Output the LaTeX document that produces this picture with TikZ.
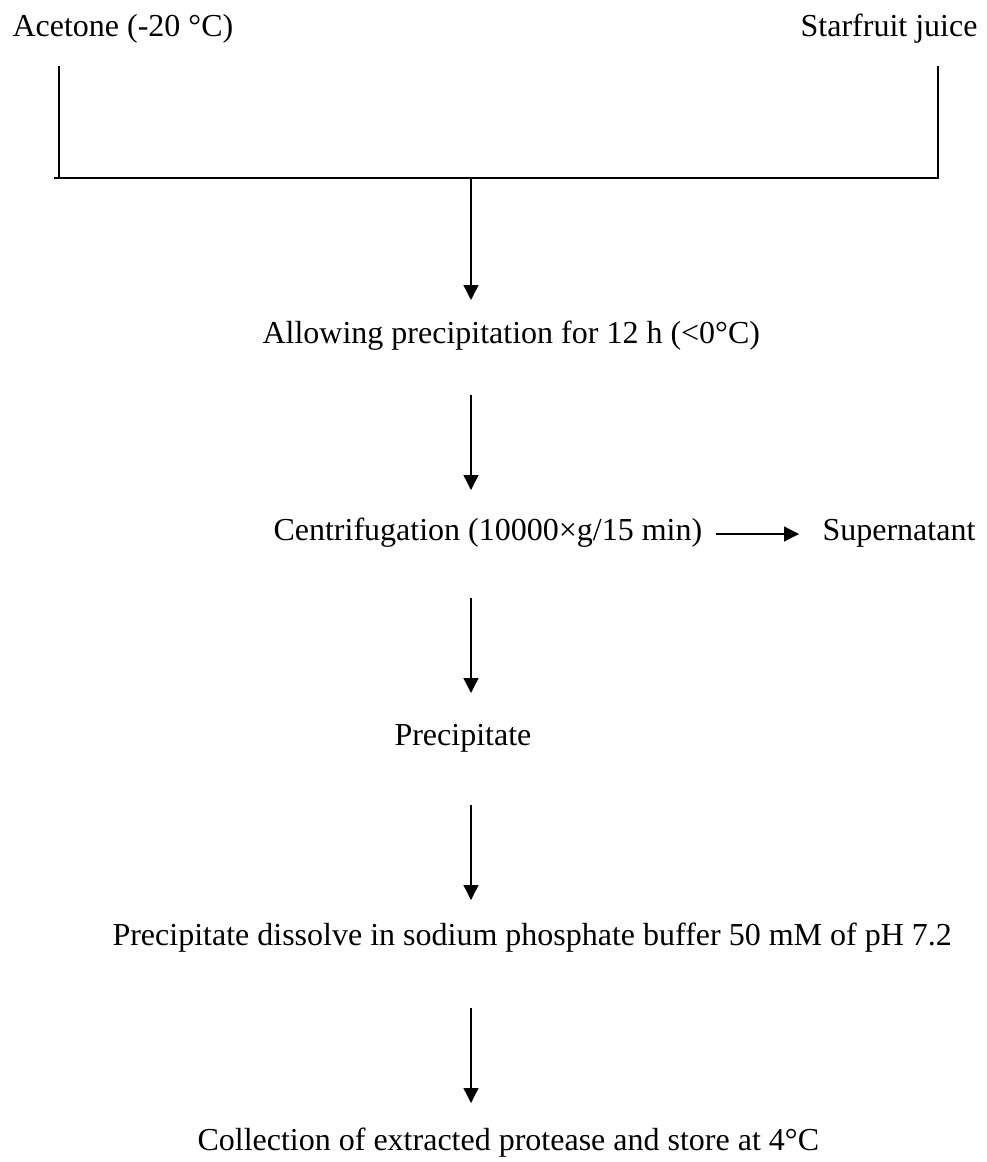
\documentclass[tikz,border=0pt]{standalone}
\usepackage{fontspec}
\setmainfont{Liberation Serif}
\usetikzlibrary{arrows.meta,positioning,calc}

\begin{document}
\begin{tikzpicture}
  [x=0.375pt, y=-0.375pt,
   steptext/.style={
     inner sep=0pt,
     anchor=base west,
     font=\fontsize{12}{14}\selectfont
     },
   flow/.style={-{Triangle[width=5.6pt,length=5.6pt]}, line width=0.5pt},
   joinline/.style={line width=0.5pt}
  ]
  \useasboundingbox (0,0) rectangle (987,1162);

  % INPUTS
  \node [steptext] (acetone) at (12,37) {Acetone (-20 °C)};
  \node [steptext, anchor=base east] (juice) at (978,37) {Starfruit juice};

  % STEPS
  \node [steptext] (allowing) at (262,343) {Allowing precipitation for 12 h (<0°C)};
  \node [steptext] (centrifugation) at (273,540) {Centrifugation (10000×g/15 min)};
  \node [steptext] (supernatant) at (822,540) {Supernatant};
  \node [steptext] (precipitate) at (394,745) {Precipitate};
  \node [steptext] (dissolve) at (112,945) {Precipitate dissolve in sodium phosphate buffer 50 mM of pH 7.2};
  \node [steptext] (collection) at (197,1150) {Collection of extracted protease and store at 4°C};

  % MIXING BRACKET
  \coordinate (acetoneend) at (59,66);
  \coordinate (juiceend) at (938,66);
  \coordinate (junction) at (471,178);
  \draw[joinline] (acetoneend) -- (acetoneend |- junction);
  \draw[joinline] ($(acetoneend |- junction)+(-5,0)$) -- (juiceend |- junction) -- (juiceend);

  % ARROWS
  \draw[flow] (junction) -- ($(junction |- allowing.base)+(0,-43)$);
  \draw[flow] ($(junction |- allowing.base)+(0,52)$) -- ($(junction |- centrifugation.base)+(0,-50)$);
  \draw[flow] ($(junction |- centrifugation.base)+(0,58)$) -- ($(junction |- precipitate.base)+(0,-52)$);
  \draw[flow] ($(junction |- precipitate.base)+(0,60)$) -- ($(junction |- dissolve.base)+(0,-45)$);
  \draw[flow] ($(junction |- dissolve.base)+(0,63)$) -- ($(junction |- collection.base)+(0,-47)$);
  \draw[flow] ($(centrifugation.base east)+(13,-6)$) -- ($(supernatant.base west)+(-23,-6)$);
\end{tikzpicture}
\end{document}
